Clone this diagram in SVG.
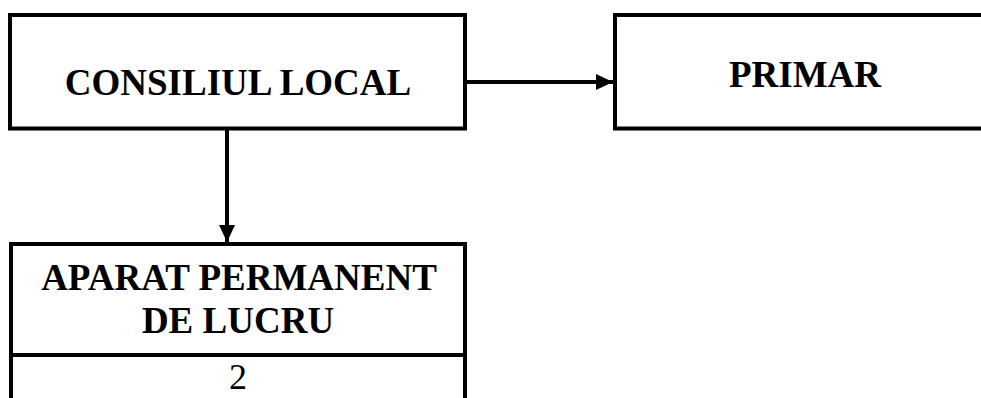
<svg xmlns="http://www.w3.org/2000/svg" width="981" height="398" viewBox="0 0 981 398">
<style>
.box{fill:#fff;stroke:#000;stroke-width:4}
.t{font-family:"Liberation Serif","Times New Roman",serif;font-weight:bold;font-size:37px;fill:#000;text-anchor:middle}
.n{font-family:"Liberation Serif","Times New Roman",serif;font-size:36px;fill:#000;text-anchor:middle}
.c{stroke:#000;stroke-width:4;fill:none}
</style>
<defs>
<marker id="ah" markerUnits="userSpaceOnUse" markerWidth="17" markerHeight="16" refX="17" refY="8" orient="auto" viewBox="0 0 17 16">
<path d="M0,0 L17,8 L0,16 Z" fill="#000"/>
</marker>
</defs>
<rect width="981" height="398" fill="#fff"/>
<g id="connectors">
<line class="c" x1="465" y1="82" x2="613" y2="82" marker-end="url(#ah)"/>
<line class="c" x1="227" y1="125" x2="227" y2="242" marker-end="url(#ah)"/>
</g>
<g id="consiliul-local">
<rect class="box" x="10" y="15" width="455" height="113.5"/>
<text class="t" x="238" y="95">CONSILIUL LOCAL</text>
</g>
<g id="primar">
<rect class="box" x="615" y="15" width="400" height="113.5"/>
<text class="t" x="805" y="87">PRIMAR</text>
</g>
<g id="aparat-permanent">
<path class="c" d="M11,410 L11,244 L465,244 L465,410 M11,355 L465,355"/>
<text class="t" x="239" y="290">APARAT PERMANENT</text>
<text class="t" x="238" y="333">DE LUCRU</text>
<text class="n" x="238" y="389">2</text>
</g>
</svg>
